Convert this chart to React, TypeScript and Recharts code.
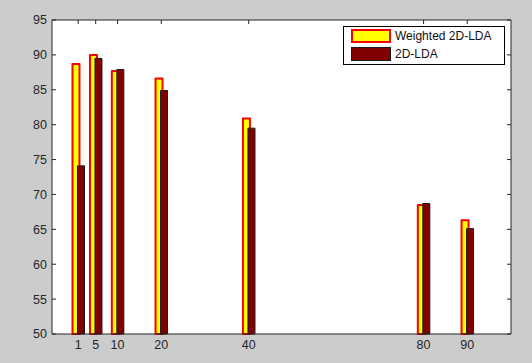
import React from 'react';
import {
  BarChart,
  Bar,
  XAxis,
  YAxis,
  CartesianGrid,
  Legend
} from 'recharts';

// feature dimensions on the x axis
const DIMS = [1, 5, 10, 20, 40, 80, 90];
// recognition rates (%)
const WEIGHTED_2DLDA = [88.7, 90.0, 87.7, 86.6, 80.9, 68.5, 66.3];
const LDA_2D = [74.1, 89.5, 87.9, 84.9, 79.5, 68.7, 65.1];

const Y_TICKS = [50, 55, 60, 65, 70, 75, 80, 85, 90, 95];
const X_DOMAIN = [-5, 100];
const Y_DOMAIN = [50, 95];

const SERIES = [
  { key: 'weighted', name: 'Weighted 2D-LDA', fill: '#ffff00', stroke: '#ff0000', strokeWidth: 2 },
  { key: 'lda', name: '2D-LDA', fill: '#800000', stroke: '#1a1a1a', strokeWidth: 1 },
];

const chartData = DIMS.map((d, i) => ({
  dim: d,
  weighted: WEIGHTED_2DLDA[i],
  lda: LDA_2D[i],
}));

const W = 532;
const H = 363;
const MARGIN = { top: 20, right: 21, bottom: 0, left: 0 };
const Y_AXIS_W = 52;
const PLOT_LEFT = MARGIN.left + Y_AXIS_W;
const PLOT_RIGHT = W - MARGIN.right;
const PLOT_TOP = MARGIN.top;
const TICK_LEN = 4;

const FONT = '"Liberation Sans", Arial, sans-serif';
const AXIS_COLOR = '#262626';
const FONT_SIZE = 12.5;

// matlab-style: labels outside, tick marks pointing into the box (also mirrored on top)
const XTick = (props: any) => {
  const { x, y, payload } = props;
  return (
    <g>
      <line x1={x} x2={x} y1={PLOT_TOP} y2={PLOT_TOP + TICK_LEN} stroke={AXIS_COLOR} />
      <text x={x} y={y} dy="0.71em" textAnchor="middle" fill={AXIS_COLOR} fontSize={FONT_SIZE} fontFamily={FONT}>
        {payload.value}
      </text>
    </g>
  );
};

const YTick = (props: any) => {
  const { x, y, payload } = props;
  return (
    <g>
      <line x1={PLOT_LEFT} x2={PLOT_LEFT + TICK_LEN} y1={y} y2={y} stroke={AXIS_COLOR} />
      <line x1={PLOT_RIGHT - TICK_LEN} x2={PLOT_RIGHT} y1={y} y2={y} stroke={AXIS_COLOR} />
      <text x={x} y={y} dy="0.355em" textAnchor="end" fill={AXIS_COLOR} fontSize={FONT_SIZE} fontFamily={FONT}>
        {payload.value}
      </text>
    </g>
  );
};

const renderLegend = (props: any) => {
  const payload = props.payload || [];
  // keep the plotting order, not recharts' sorted order
  const items = SERIES.map((s) => ({
    s,
    label: (payload.find((p: any) => p.dataKey === s.key) || {}).value || s.name,
  }));
  return (
    <div
      style={{
        width: 160,
        height: 37,
        border: '1px solid #000',
        background: '#fff',
        fontFamily: FONT,
        fontSize: 12,
        color: '#111',
      }}
    >
      {items.map(({ s, label }) => (
        <div key={s.key} style={{ height: 18, display: 'flex', alignItems: 'center' }}>
          <div
            style={{
              marginLeft: 7,
              width: 40,
              height: 14,
              boxSizing: 'border-box',
              background: s.fill,
              border: `${s.strokeWidth}px solid ${s.stroke}`,
            }}
          />
          <span style={{ marginLeft: 4, lineHeight: '18px' }}>{label}</span>
        </div>
      ))}
    </div>
  );
};

export default function App() {
  return (
    <div style={{ position: 'absolute', left: 0, top: 0, width: W, height: H, background: '#cccccc' }}>
      <BarChart width={W} height={H} data={chartData} margin={MARGIN} barGap={-2}>
        {/* white axes box; top and right edges of the box */}
        <CartesianGrid
          fill="#ffffff"
          stroke={AXIS_COLOR}
          horizontalValues={[Y_DOMAIN[1]]}
          verticalValues={[X_DOMAIN[1]]}
        />
        <XAxis
          dataKey="dim"
          type="number"
          domain={X_DOMAIN}
          ticks={DIMS}
          interval={0}
          height={29}
          tickLine={false}
          tickSize={0}
          tickMargin={6}
          axisLine={{ stroke: AXIS_COLOR }}
          tick={<XTick />}
        />
        <YAxis
          type="number"
          domain={Y_DOMAIN}
          ticks={Y_TICKS}
          interval={0}
          width={Y_AXIS_W}
          tickLine={false}
          tickSize={0}
          tickMargin={5}
          axisLine={{ stroke: AXIS_COLOR }}
          tick={<YTick />}
        />
        {SERIES.map((s) => (
          <Bar
            key={s.key}
            dataKey={s.key}
            name={s.name}
            barSize={7}
            fill={s.fill}
            stroke={s.stroke}
            strokeWidth={s.strokeWidth}
            strokeLinejoin="round"
            isAnimationActive={false}
          />
        ))}
        <Legend
          layout="horizontal"
          verticalAlign="middle"
          align="center"
          content={renderLegend}
          wrapperStyle={{ left: 343, top: 26, width: 162 }}
        />
      </BarChart>
    </div>
  );
}
